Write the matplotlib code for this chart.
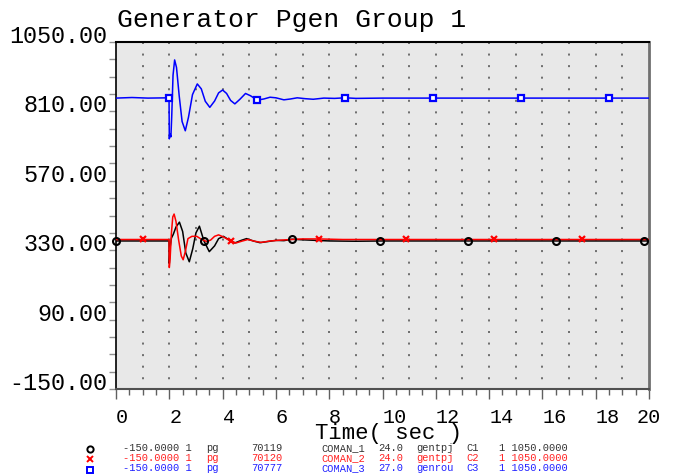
import matplotlib
matplotlib.use('Agg')
import matplotlib.pyplot as plt
from matplotlib.lines import Line2D
import numpy as np

# ---------------- data ----------------
black_t = [0, 1.0, 1.99, 2.0, 2.03, 2.08, 2.15, 2.25, 2.38, 2.5, 2.62, 2.75, 2.88, 3.0, 3.13,
           3.3, 3.5, 3.7, 3.85, 4.03, 4.25, 4.46, 4.7, 4.9, 5.15, 5.4, 5.7, 6.0, 6.3, 6.6,
           7.0, 7.5, 8.0, 9.0, 10, 12, 14, 16, 18, 20]
black_v = [362, 362, 362, 285, 340, 372, 385, 410, 427, 395, 320, 290, 335, 390, 413,
           362, 325, 345, 370, 378, 365, 355, 364, 370, 362, 356, 360, 364, 363, 368,
           366, 364, 362, 361, 362, 362, 362, 362, 362, 362]

red_t = [0, 1.0, 1.99, 2.0, 2.03, 2.08, 2.13, 2.18, 2.25, 2.35, 2.45, 2.52, 2.6, 2.7, 2.85,
         3.03, 3.2, 3.4, 3.55, 3.7, 3.85, 4.05, 4.25, 4.5, 4.75, 4.95, 5.2, 5.45, 5.8, 6.2,
         6.6, 7.0, 7.6, 8.5, 10, 12, 14, 16, 18, 20]
red_v = [367, 367, 367, 270, 300, 390, 445, 455, 430, 365, 310, 297, 325, 370, 378,
         378, 368, 360, 365, 378, 383, 375, 364, 355, 362, 367, 361, 357, 362, 365,
         367, 369, 369, 367, 367, 367, 367, 367, 367, 367]

blue_t = [0, 0.6, 1.2, 1.99, 2.0, 2.03, 2.06, 2.09, 2.14, 2.2, 2.27, 2.37, 2.48, 2.6, 2.72,
          2.87, 3.05, 3.2, 3.35, 3.52, 3.7, 3.85, 4.0, 4.15, 4.3, 4.46, 4.65, 4.86, 5.05,
          5.3, 5.55, 5.78, 6.0, 6.3, 6.55, 6.8, 7.1, 7.4, 7.8, 8.2, 8.6, 9.0, 10, 12, 14,
          16, 18, 20]
blue_v = [856, 858, 856, 857, 715, 732, 722, 790, 935, 988, 962, 865, 775, 743, 790,
          868, 905, 888, 845, 824, 846, 874, 884, 872, 848, 836, 852, 872, 864,
          849, 853, 859, 857, 850, 853, 857, 854, 852, 856, 855, 857, 855, 856, 856, 856,
          856, 856, 856]

black_mt = [0, 3.3, 6.6, 9.9, 13.2, 16.5, 19.8]
black_mv = [362, 361, 369, 362, 362, 362, 362]
red_mt = [1.0, 4.3, 7.6, 10.9, 14.2, 17.5]
red_mv = [368, 361, 369, 368, 368, 368]
blue_mt = [2.0, 5.3, 8.6, 11.9, 15.2, 18.5]
blue_mv = [857, 849, 857, 857, 857, 857]

x_ticks = [0, 2, 4, 6, 8, 10, 12, 14, 16, 18, 20]
x_ticklabels = ['0', '2', '4', '6', '8', '10', '12', '14', '16', '18', '20']
y_ticks = [-150, 90, 330, 570, 810, 1050]
y_ticklabels = ['-150.00', '90.00', '330.00', '570.00', '810.00', '1050.00']
grid_t = list(range(1, 20))

title = 'Generator Pgen Group 1'
xlabel = 'Time( sec )'

leg_min = ['-150.0000 1', '-150.0000 1', '-150.0000 1']
leg_var = ['pg', 'pg', 'pg']
leg_bus = ['70119', '70120', '70777']
leg_name = ['COMAN_1', 'COMAN_2', 'COMAN_3']
leg_kv = ['24.0', '24.0', '27.0']
leg_model = ['gentpj', 'gentpj', 'genrou']
leg_id = ['C1', 'C2', 'C3']
leg_max = ['1 1050.0000', '1 1050.0000', '1 1050.0000']

# ---------------- layout ----------------
plt.rcParams['font.family'] = ['Liberation Mono', 'DejaVu Sans Mono']
plt.rcParams['ytick.alignment'] = 'baseline'
plt.rcParams['xtick.alignment'] = 'left'

W, H = 674, 477
fig = plt.figure(figsize=(W / 100, H / 100), dpi=100)

def fx(px):
    return px / W

def fy(py):
    return 1 - py / H

ax = fig.add_axes([fx(116), fy(390), fx(649) - fx(116), fy(43) - fy(390)])
ax.set_facecolor('#e8e8e8')
ax.set_xlim(0, 20)
ax.set_ylim(-150, 1050)

for t in grid_t:
    ax.plot([t, t], [1050, -150], color='#707070', lw=1.44, ls=(0, (1, 4.78)),
            dash_capstyle='butt', zorder=1)

ax.plot(blue_t, blue_v, color='#0000ff', lw=1.1, zorder=3)
ax.plot(black_t, black_v, color='black', lw=1.1, zorder=3)
ax.plot(red_t, red_v, color='#ff0000', lw=1.1, zorder=3)

ax.plot(black_mt, black_mv, ls='none', marker='o', mfc='none', mec='black', ms=5, mew=1.5,
        clip_on=False, zorder=5)
ax.plot(red_mt, red_mv, ls='none', marker='x', mec='#ff0000', ms=4.5, mew=1.6,
        clip_on=False, zorder=5)
ax.plot(blue_mt, blue_mv, ls='none', marker='s', mfc='white', mec='#0000ff', ms=5, mew=1.6,
        clip_on=False, zorder=5)

ax.set_xticks(x_ticks)
ax.set_xticklabels(x_ticklabels)
ax.set_xticks(np.arange(0, 20.01, 0.5), minor=True)
ax.set_yticks(y_ticks)
ax.set_yticklabels(y_ticklabels)
ax.set_yticks(np.arange(-150, 1050.01, 60), minor=True)

ax.tick_params(axis='x', which='major', direction='out', length=7, width=1, color='#606060',
               labelsize=14.5, pad=6)
ax.tick_params(axis='x', which='minor', direction='out', length=4, width=1, color='#606060')
ax.tick_params(axis='y', which='both', direction='out', length=5, width=1, color='#909090',
               labelsize=16.8, pad=1)
ax.get_xticklabels()[-1].set_ha('center')

ax.spines['left'].set_color('black')
ax.spines['left'].set_linewidth(1.2)
ax.spines['top'].set_color('black')
ax.spines['top'].set_linewidth(1.5)
ax.spines['right'].set_color('#707070')
ax.spines['right'].set_linewidth(2)
ax.spines['bottom'].set_color('#505050')
ax.spines['bottom'].set_linewidth(1.5)

ax.set_xlabel(xlabel, fontsize=16, va='baseline')
ax.xaxis.set_label_coords((388.5 - 116) / 533, (390 - 439.5) / 347)

fig.text(fx(117), fy(27), title, fontsize=19, ha='left', va='baseline')

# ---------------- legend ----------------
row_colors = ['#333333', '#ff2020', '#2020ff']
row_base = [451.5, 461.5, 471.5]
sym_y = [450, 460, 471]
col_x = [123, 206, 251, 321, 378, 416, 466, 499]
cols = [leg_min, leg_var, leg_bus, leg_name, leg_kv, leg_model, leg_id, leg_max]
sym = [dict(marker='o', mfc='none', mec='black', ms=4.5, mew=1.4),
       dict(marker='x', mec='#ff0000', ms=4.5, mew=1.4),
       dict(marker='s', mfc='white', mec='#0000ff', ms=4.5, mew=1.4)]
for i in range(3):
    for cx, col in zip(col_x, cols):
        fig.text(fx(cx), fy(row_base[i]), col[i], fontsize=7.5, color=row_colors[i],
                 ha='left', va='baseline')
    fig.add_artist(Line2D([fx(90)], [fy(sym_y[i])], transform=fig.transFigure, ls='none',
                          **sym[i]))

fig.savefig('out.png', dpi=100)
